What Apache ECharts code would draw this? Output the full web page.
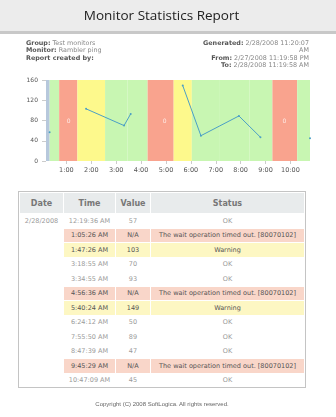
<!DOCTYPE html>
<html><head><meta charset="utf-8">
<script src="https://cdn.jsdelivr.net/npm/echarts@6/dist/echarts.min.js"></script>
<style>
html,body{margin:0;padding:0;background:#fff;width:336px;height:417px;overflow:hidden;position:relative;}
.nolcd{opacity:0.999;will-change:opacity;}
#hdr{position:absolute;left:0;top:0;width:336px;height:31px;background:#ececec;border-bottom:3px solid #c8c8c8;}
#title{position:absolute;left:0;top:6px;width:323px;text-align:center;font-family:"Open Sans",sans-serif;font-size:13.5px;color:#222;line-height:18px;}
.info{position:absolute;font-family:"DejaVu Sans",sans-serif;font-size:6.4px;line-height:7.3px;color:#888;white-space:nowrap;}
.info b{color:#555;}
#chart{position:absolute;left:0;top:0;width:336px;height:180px;}
#tbl{position:absolute;left:18px;top:191px;width:288px;height:197px;border:1px solid #c4c4c4;box-sizing:border-box;background:#fff;}
table{border-collapse:separate;border-spacing:1px;width:100%;font-family:"DejaVu Sans",sans-serif;font-size:6.5px;}
th{background:#e8ebec;color:#777;font-size:8px;font-weight:bold;height:20px;padding:0;}
td{height:13.5px;padding:0;text-align:center;color:#9a9a9a;}
tr.err td.c{background:#f9d6c9;color:#555;}
tr.warn td.c{background:#fdf7c3;color:#555;}
#copy{position:absolute;left:0;top:401px;width:324px;text-align:center;font-family:"Liberation Sans",sans-serif;font-size:6px;color:#666;}
</style></head><body>
<div id="hdr"></div>
<div id="title" class="nolcd">Monitor Statistics Report</div>
<div class="info nolcd" style="left:26px;top:40px;">
<b>Group:</b> Test monitors<br><b>Monitor:</b> Rambler ping<br><b>Report created by:</b>
</div>
<div class="info nolcd" style="right:27px;top:40px;text-align:right;">
<b>Generated:</b> 2/28/2008 11:20:07<br>AM<br><b>From:</b> 2/27/2008 11:19:58 PM<br><b>To:</b> 2/28/2008 11:19:58 AM
</div>
<div id="chart"></div>
<div id="tbl" class="nolcd"><table id="t"></table></div>
<div id="copy" class="nolcd">Copyright (C) 2008 SoftLogica. All rights reserved.</div>
<script>
// ---- data ----
var reportDate = "2/28/2008";
var times = ["12:19:36 AM","1:05:26 AM","1:47:26 AM","3:18:55 AM","3:34:55 AM","4:56:36 AM","5:40:24 AM","6:24:12 AM","7:55:50 AM","8:47:39 AM","9:45:29 AM","10:47:09 AM"];
var values = [57,null,103,70,93,null,149,50,89,47,null,45];
var statuses = ["OK","The wait operation timed out. [80070102]","Warning","OK","OK","The wait operation timed out. [80070102]","Warning","OK","OK","OK","The wait operation timed out. [80070102]","OK"];
var hourTicks = [1,2,3,4,5,6,7,8,9,10];

function toHours(s){
  var p = s.split(" "); var hms = p[0].split(":").map(Number);
  var h = hms[0] % 12; if (p[1]==="PM") h += 12;
  return h + hms[1]/60 + hms[2]/3600;
}
var hrs = times.map(toHours);
function kind(s){ return s==="OK"?"ok":(s==="Warning"?"warn":"err"); }

// ---- table ----
var t = document.getElementById("t");
var html = "<tr><th style='width:43px'>Date</th><th style='width:51px'>Time</th><th style='width:34px'>Value</th><th>Status</th></tr>";
for (var i=0;i<times.length;i++){
  var k = kind(statuses[i]);
  html += "<tr class='"+k+"'><td>"+(i===0?reportDate:"")+"</td><td class='c'>"+times[i]+"</td><td class='c'>"+(values[i]===null?"N/A":values[i])+"</td><td class='c'>"+statuses[i]+"</td></tr>";
}
t.innerHTML = html;

// ---- chart ----
var colors = {ok:"#c8f6b2", warn:"#fdf98c", err:"#f9a38e"};
var axisStart = 0.18;
var areas = [[{xAxis:axisStart, itemStyle:{color:"#b7c8dc"}},{xAxis:hrs[0]}]];
for (var i=0;i<hrs.length;i++){
  var s = i===0?hrs[0]:(hrs[i-1]+hrs[i])/2;
  var e = i===hrs.length-1?hrs[i]:(hrs[i]+hrs[i+1])/2;
  areas.push([{xAxis:s, itemStyle:{color:colors[kind(statuses[i])]}},{xAxis:e}]);
}
var lineData = hrs.map(function(h,i){ return [h, values[i]===null?'-':values[i]]; });
var naData = [];
hrs.forEach(function(h,i){ if(values[i]===null) naData.push([h,78]); });

var chart = echarts.init(document.getElementById("chart"), null, {renderer:"canvas"});
chart.setOption({
  animation:false,
  grid:{left:46,right:26,top:80,bottom:19},
  xAxis:{type:"value",min:axisStart,max:hrs[hrs.length-1],
    splitLine:{show:false},axisLine:{show:false},
    axisTick:{show:true,length:3,lineStyle:{color:"#ccc"},customValues:hourTicks},
    axisLabel:{customValues:hourTicks,formatter:function(v){return Math.round(v)+":00";},
      color:"#555",fontSize:6.5,fontFamily:"DejaVu Sans",margin:6}},
  yAxis:{type:"value",min:0,max:160,interval:40,
    splitLine:{show:false},axisLine:{show:false},
    axisTick:{show:true,length:4,lineStyle:{color:"#ccc"}},
    axisLabel:{color:"#555",fontSize:6,fontFamily:"DejaVu Sans",margin:8}},
  series:[
    {type:"line",data:[],z:1,markArea:{silent:true,data:areas}},
    {type:"line",data:lineData,z:3,connectNulls:false,symbol:"circle",symbolSize:2,showSymbol:true,
      lineStyle:{color:"#4b9fc6",width:1},itemStyle:{color:"#4b9fc6"}},
    {type:"scatter",data:naData,z:3,symbolSize:0,
      label:{show:true,position:"inside",formatter:"0",color:"#fff",fontSize:6,fontFamily:"DejaVu Sans"}}
  ]
});
</script>
</body></html>
